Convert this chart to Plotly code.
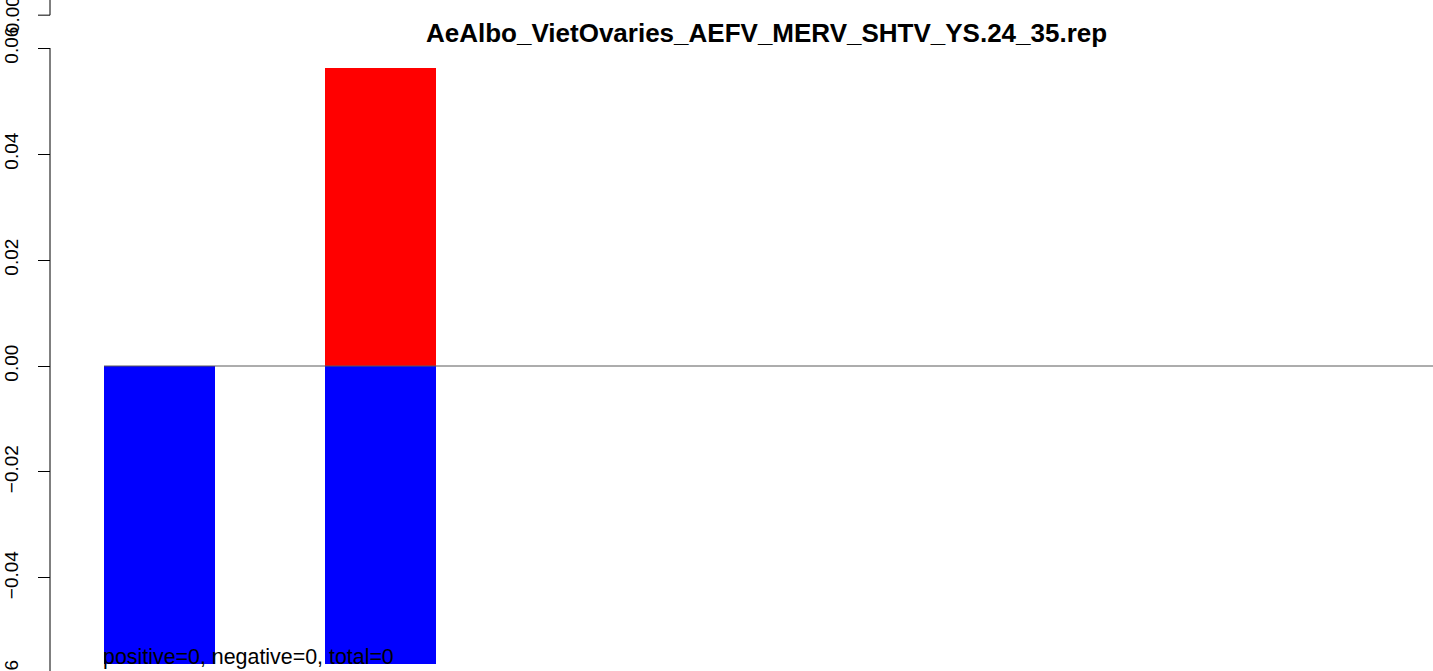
import plotly.graph_objects as go

# ---- data ----
title_text = "AeAlbo_VietOvaries_AEFV_MERV_SHTV_YS.24_35.rep"
bar_index = [1, 2]
positive_values = [0.0, 0.0562]
negative_values = [-0.0562, -0.0562]
tick_values = [-0.04, -0.02, 0.0, 0.02, 0.04, 0.06]
tick_labels = ["\u22120.04", "\u22120.02", "0.00", "0.02", "0.04", "0.06"]
summary_text = "positive=0, negative=0, total=0"
# fragments of neighbouring panels' axes (partly outside the page)
upper_fragment_value = 0.0662
upper_fragment_label = "0.00"
lower_fragment_value = -0.06
lower_fragment_label = "\u22120.06"

W, H = 1433, 671
FONT = "Liberation Sans, Arial, Helvetica, sans-serif"

# R barplot layout: width 1, space 1 -> centres at 2*i - 0.5
centres = [2 * i - 0.5 for i in bar_index]

fig = go.Figure()
fig.add_trace(go.Bar(x=centres, y=positive_values, width=1, marker_color="#FF0000",
                     marker_line_width=0, hoverinfo="skip"))
fig.add_trace(go.Bar(x=centres, y=negative_values, width=1, marker_color="#0000FF",
                     marker_line_width=0, hoverinfo="skip"))

x_range = [0.06, 13.01]
y_range = [-0.05755, 0.06906]
axis_pos = 50 / W


def y_paper(v):
    return (v - y_range[0]) / (y_range[1] - y_range[0])


# zero line
fig.add_shape(type="line", xref="x", yref="y", x0=1, x1=x_range[1], y0=0, y1=0,
              line=dict(color="#5a5a5a", width=1), layer="above")

fig.update_layout(
    width=W, height=H,
    margin=dict(l=0, r=0, t=0, b=0),
    paper_bgcolor="white", plot_bgcolor="white",
    barmode="relative", bargap=0, showlegend=False,
    font=dict(family=FONT, color="black"),
    xaxis=dict(range=x_range, visible=False, domain=[0, 1]),
    yaxis=dict(range=y_range, anchor="free", position=axis_pos, side="left",
               tickvals=tick_values, ticktext=tick_labels, tickangle=-90,
               ticks="outside", ticklen=12, tickwidth=1, tickcolor="black",
               ticklabelstandoff=12,
               tickfont=dict(size=19, family=FONT, color="black"),
               showgrid=False, zeroline=False, showline=False, automargin=False),
)

# axis line (from 0.06 downwards, continuing past the page bottom)
fig.add_shape(type="line", xref="paper", yref="y", x0=axis_pos, x1=axis_pos,
              y0=y_range[0], y1=0.06, line=dict(color="black", width=1))
# upper fragment axis line + tick
fig.add_shape(type="line", xref="paper", yref="y", x0=axis_pos, x1=axis_pos,
              y0=upper_fragment_value, y1=y_range[1], line=dict(color="black", width=1))
fig.add_shape(type="line", xref="paper", yref="y", x0=axis_pos, x1=axis_pos - 12 / W,
              y0=upper_fragment_value, y1=upper_fragment_value,
              line=dict(color="black", width=1))

for val, lab in [(upper_fragment_value, upper_fragment_label),
                 (lower_fragment_value, lower_fragment_label)]:
    fig.add_annotation(text=lab, xref="paper", yref="paper", x=12 / W, y=y_paper(val),
                       textangle=-90, showarrow=False, xanchor="center", yanchor="middle",
                       font=dict(size=19, family=FONT, color="black"))

fig.add_annotation(text="<b>" + title_text + "</b>", xref="paper", yref="paper",
                   x=766 / W, y=1 - 33 / H, xanchor="center", yanchor="middle",
                   showarrow=False, font=dict(size=26, family=FONT, color="black"))

fig.add_annotation(text=summary_text, xref="x", yref="paper", x=1, y=0,
                   xanchor="left", yanchor="bottom", yshift=0, xshift=-3, showarrow=False,
                   font=dict(size=21.4, family=FONT, color="black"))

fig.write_html("out.html", config={"displayModeBar": False},
               post_script="document.body.style.margin='0';document.body.style.overflow='hidden';")
